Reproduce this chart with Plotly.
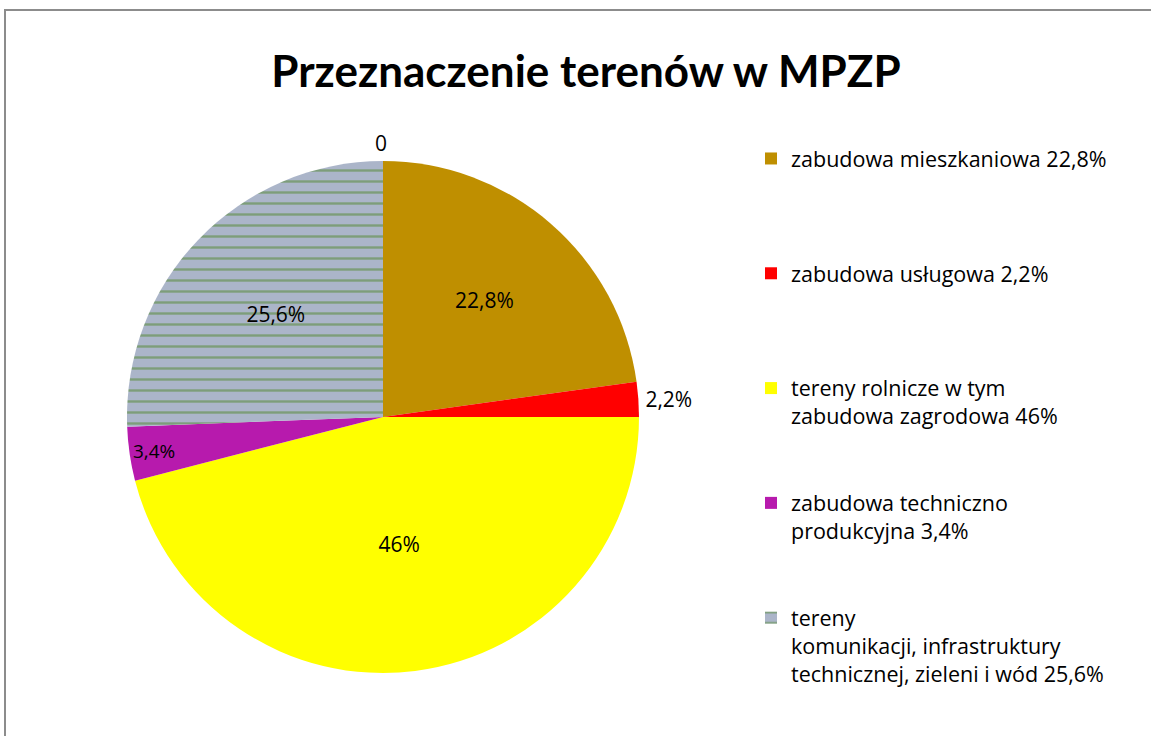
import plotly.graph_objects as go

categories = [
    "zabudowa mieszkaniowa 22,8%",
    "zabudowa usługowa 2,2%",
    "tereny rolnicze w tym<br>zabudowa zagrodowa 46%",
    "zabudowa techniczno<br>produkcyjna 3,4%",
    "tereny<br>komunikacji, infrastruktury<br>technicznej, zieleni i wód 25,6%",
]
values = [22.8, 2.2, 46, 3.4, 25.6]
colors = ["#BF8F00", "#FF0000", "#FFFF00", "#B71AAD", "#ABB5C9"]
patterns = ["", "", "", "", "-"]
text_positions = ["inside", "outside", "inside", "inside", "inside"]
title_text = "Przeznaczenie terenów w MPZP"
zero_label = "0"

slice_text = [f"{v:g}".replace(".", ",") + "%" for v in values]

# pad legend labels so each entry occupies 4 lines
legend_labels = []
for c in categories:
    n = c.count("<br>") + 1
    legend_labels.append(c + "<br>\u00a0" * (4 - n))

FONT = "Open Sans, Lato, sans-serif"
W, H = 1151, 736
cx, cy, r = 383, 417, 256

fig = go.Figure(
    go.Pie(
        labels=legend_labels,
        values=values,
        text=slice_text,
        textinfo="text",
        textposition=text_positions,
        insidetextorientation="horizontal",
        sort=False,
        direction="clockwise",
        rotation=0,
        marker=dict(
            colors=colors,
            line=dict(width=0),
            pattern=dict(
                shape=patterns,
                fgcolor="#5E8E45",
                bgcolor=colors,
                size=11,
                solidity=0.22,
                fgopacity=0.6,
            ),
        ),
        textfont=dict(family=FONT, size=21, color="#000000"),
        insidetextfont=dict(family=FONT, size=21, color="#000000"),
        outsidetextfont=dict(family=FONT, size=21, color="#000000"),
        domain=dict(
            x=[(cx - r) / W, (cx + r) / W],
            y=[1 - (cy + r) / H, 1 - (cy - r) / H],
        ),
        hoverinfo="label+percent",
    )
)

fig.update_layout(
    width=W,
    height=H,
    margin=dict(l=0, r=0, t=0, b=0),
    paper_bgcolor="white",
    title=dict(
        text=f"<b>{title_text}</b>",
        x=586 / W,
        xanchor="center",
        y=1 - 72 / H,
        yanchor="middle",
        font=dict(family="Lato, sans-serif", size=44, color="#000000"),
    ),
    legend=dict(
        x=751 / W,
        xanchor="left",
        y=1 - 138 / H,
        yanchor="top",
        valign="top",
        font=dict(family=FONT, size=21.5, color="#000000"),
        bgcolor="rgba(0,0,0,0)",
        traceorder="normal",
    ),
    showlegend=True,
    shapes=[
        dict(
            type="rect",
            xref="paper",
            yref="paper",
            x0=5 / W,
            x1=1.05,
            y0=-0.05,
            y1=1 - 10 / H,
            line=dict(color="#8C8C8C", width=2),
            fillcolor="rgba(0,0,0,0)",
            layer="below",
        )
    ],
    annotations=[
        dict(
            text=zero_label,
            xref="paper",
            yref="paper",
            x=381 / W,
            y=1 - 143 / H,
            xanchor="center",
            yanchor="middle",
            showarrow=False,
            font=dict(family=FONT, size=21, color="#000000"),
        )
    ],
)

fig.write_html(
    "out.html",
    config={"displayModeBar": False},
    post_script="document.body.style.margin='0';document.body.style.overflow='hidden';",
)
